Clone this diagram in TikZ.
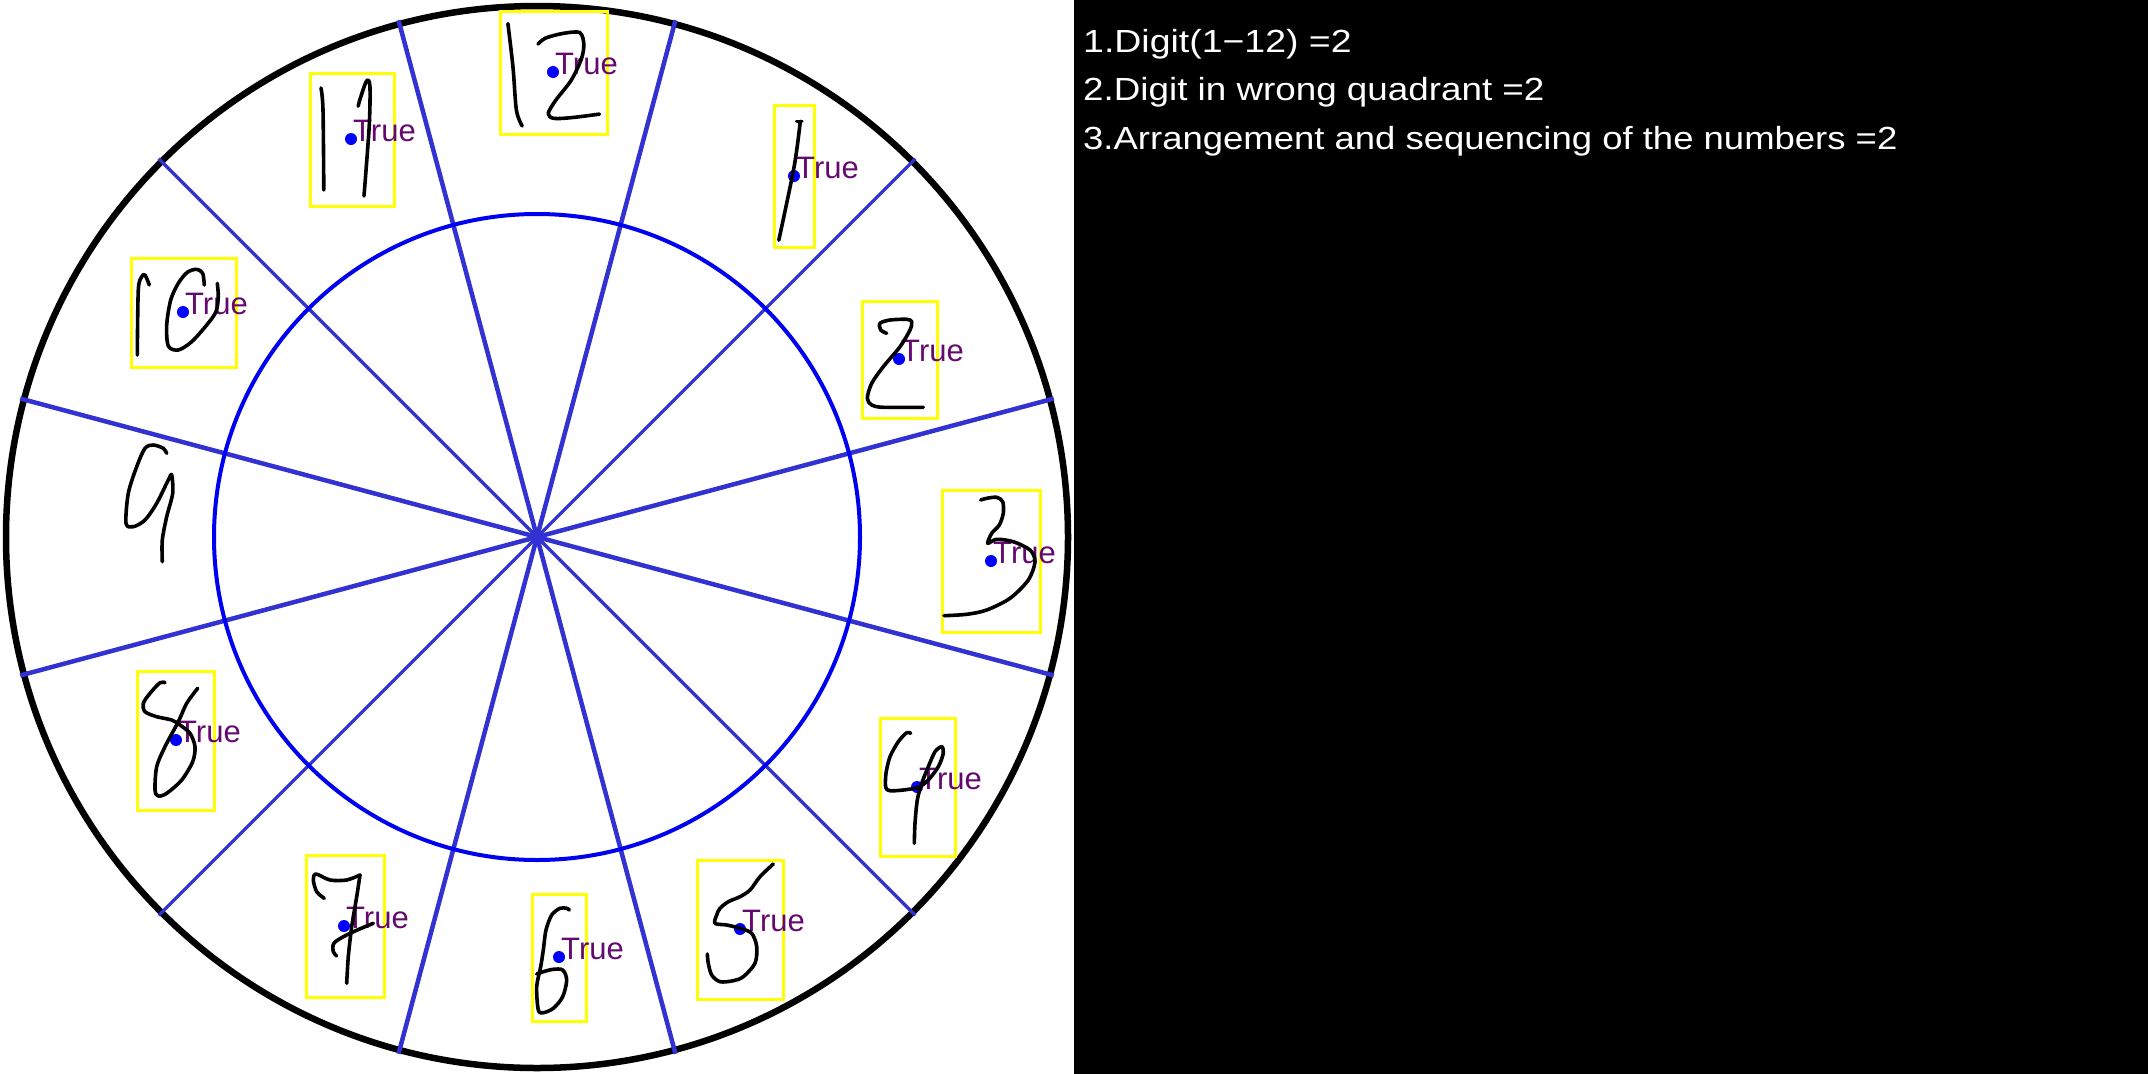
\documentclass[tikz,border=0pt]{standalone}
\usepackage{fontspec}
\setmainfont{Liberation Sans}
\usepackage{graphicx}
\usepackage{tikz}
\usetikzlibrary{calc}
\definecolor{rayo}{RGB}{50,50,210}
\definecolor{aro}{RGB}{0,0,240}
\definecolor{caja}{RGB}{255,255,0}
\definecolor{punto}{RGB}{0,0,255}
\definecolor{morado}{RGB}{100,10,110}

\begin{document}
\begin{tikzpicture}[x=1pt,y=-1pt,line cap=round,line join=round,
    ink/.style={black,line width=3.6pt},
    digitbox/.style={caja,line width=3pt,line cap=butt,line join=miter},
    tag/.style={morado,anchor=base west,inner sep=0pt,font=\fontsize{31}{31}\selectfont},
    score/.style={white,anchor=base west,inner sep=0pt,font=\fontsize{32}{32}\selectfont}]
        \useasboundingbox (0,0) rectangle (2148,1074);
        % --- fondo: lienzo blanco y panel negro ---
        \fill[white] (0,0) rectangle (1074,1074);
        \fill[black] (1074,0) rectangle (2148,1074);
        % --- centro del reloj y borde ---
        \coordinate (C) at (537,537);
        \draw[black,line width=6.5pt] (C) circle (531pt);
        % --- radios cada 30 grados ---
        \foreach \a in {15,75,105,165,195,255,285,345}{
          \draw[rayo,line width=4.5pt,line cap=butt] (C) -- ++(\a:535pt);
        }
        \foreach \a in {45,135,225,315}{
          \draw[rayo,line width=3.2pt,line cap=butt] (C) -- ++(\a:535pt);
        }
        % --- circulo interior ---
        \draw[aro,line width=4pt] (C) circle (323pt);
        % --- cajas, puntos y etiquetas ---
        \foreach \n/\xa/\ya/\xb/\yb/\dx/\dy in {12/500/11/607/134/553/72,
            11/310/73/394/206/351/139, 1/774/105/814/247/794/176,
            10/131/258/236/367/183/312, 2/862/301/937/418/899/359,
            3/942/490/1040/632/991/561, 8/137/671/214/810/176/740,
            4/880/718/955/856/917/787, 7/306/855/384/997/344/926,
            6/532/894/586/1021/559/957, 5/697/860/783/999/740/929}{
          \draw[digitbox] (\xa,\ya) rectangle (\xb,\yb);
          \fill[punto] (\dx,\dy) circle (6pt);
          \node[tag] (t\n) at (\dx+2,\dy+2) {True};
        }
        % --- cifras a mano ---
        % 12
        \draw[ink] plot[smooth,tension=.5] coordinates {(507.9,23.6) (513,67.2) (516.4,110.2) (522.2,126)};
        \draw[ink] plot[smooth,tension=.5] coordinates {(538,44.1) (545.5,38.1) (562.6,33.5) (579.7,32.5)
              (583.8,44.1) (581.4,58.9) (571.1,80.4) (555.7,100.3) (548.2,113.5) (554,118.4) (572.8,117.5) (599.5,114.1)};
        % 11
        \draw[ink] plot[smooth,tension=.5] coordinates {(321,88) (323,109.6) (323.8,190)};
        \draw[ink] plot[smooth,tension=.5] coordinates {(358.2,106.2) (359.9,99.6) (366.4,81.3) (369.9,85.6)
              (369.2,126.2) (364,196)};
        % 1
        \draw[ink] (796.9,121.3) -- (801.7,121.3);
        \draw[ink] plot[smooth,tension=.5] coordinates {(800.3,121.3) (794.2,166.3) (778.8,240.2)};
        % 10
        \draw[ink] plot[smooth,tension=.5] coordinates {(137.3,355) (138.3,290) (141.7,276.7) (145,275) (149.3,285)};
        \draw[ink] plot[smooth,tension=.5] coordinates {(204.3,285) (202.7,273.3) (196.7,269.3) (187.3,272.3)
              (178.3,283.3) (170.7,300) (166.7,325) (168.3,346) (178.3,350) (191.7,341.7) (206.7,325)
              (216,311.7) (218.3,296.7) (217.3,283.3)};
        % 9
        \draw[ink] plot[smooth,tension=.5] coordinates {(166.7,453.3) (163.3,448.3) (153.3,445) (145,448.3)
              (136.7,466.7) (128.3,493.3) (126,523.3) (133.3,526.7) (145,520) (156.7,503.3) (168.3,480)
              (171.7,475) (172.7,493.3) (166.7,516.7) (162.3,540) (162.3,561.7)};
        % 2
        \draw[ink] plot[smooth,tension=.5] coordinates {(886.7,333.3) (880.7,330) (880,323.3) (890,320)
              (906.7,319.3) (911.7,321.7) (910,330) (900,346.7) (883.3,366.7) (871.7,383.3) (867.3,398.3)
              (871.7,405) (883.3,407.3) (923.3,407.3)};
        % 3
        \draw[ink] plot[smooth,tension=.5] coordinates {(980.7,500) (986.7,498.3) (996.7,497.3) (1002.7,501.7)
              (1003.3,513.3) (999.3,525) (991.7,533.3) (987.7,543.3) (996.7,539.3) (1013.3,541.7) (1030,550)
              (1035,561.7) (1028.3,580) (1010,598.3) (986.7,610) (966.7,614.3) (944,615.7)};
        % 8
        \draw[ink] plot[smooth,tension=.5] coordinates {(165,682.7) (160,682.7) (150,693.3) (143.3,703.3)
              (145,711.7) (156.7,716.7) (171.7,720) (180,725) (190,733.3) (195,746.7) (192.7,761.7)
              (181.7,780) (166.7,793.3) (158.3,796) (155,790) (156.7,766.7) (165,746.7) (178.3,721.7)
              (186.7,703.3) (197.7,688.3)};
        % 4
        \draw[ink] plot[smooth,tension=.5] coordinates {(910.7,733.3) (906.7,732.7) (898.3,741.7) (890,756.7)
              (886,773.3) (885.7,787.3) (890,790.7) (903.3,790) (918.3,787.3) (928.3,780) (938.3,766.7)
              (943.3,753.3) (941.7,746.7) (935,751.7) (928.3,766.7) (921.7,783.3) (917.3,800) (915,823.3)
              (914.3,843.3)};
        % 7
        \draw[ink] plot[smooth,tension=.5] coordinates {(324.3,898.3) (316.7,891.7) (313.3,880) (316,874)
              (330,880) (346.7,880) (360,875)};
        \draw[ink] plot[smooth,tension=.5] coordinates {(360,875) (356.7,896.7) (351.7,926.7) (348.3,956.7) (346.7,983.3)};
        \draw[ink] plot[smooth,tension=.5] coordinates {(336.7,956) (333.3,951.7) (334.3,942.7) (350,933.3) (373.3,923.3)};
        % 6
        \draw[ink] plot[smooth,tension=.5] coordinates {(569.3,910) (566.7,908.3) (560,908.3) (551.7,915)
              (546,930) (543.3,950) (540.7,966.7) (536.7,986.7) (538.3,1010) (543.3,1012.7) (553.3,1008.3)
              (562.7,996.7) (566.7,980) (562.7,970) (553.3,969.3) (543.3,971.7) (536.7,974)};
        % 5
        \draw[ink] plot[smooth,tension=.5] coordinates {(773.3,864) (760,876.7) (750,890) (740,896.7)
              (728.3,901.7) (720,908.3) (716.7,915) (715,923.3) (726.7,925) (740,928.3) (751.7,933.3)
              (756.7,946.7) (755,963.3) (743.3,976.7) (733.3,980.7) (720,981.7) (711.7,975) (708.3,963.3)
              (707.3,954)};
        % --- puntuacion ---
        \node[score] (s1) at (1083,52) {\scalebox{1.17}[1]{1.Digit(1−12) =2}};
        \node[score] (s2) at (1083,100) {\scalebox{1.15}[1]{2.Digit in wrong quadrant =2}};
        \node[score] (s3) at (1083,149) {\scalebox{1.14}[1]{3.Arrangement and sequencing of the numbers =2}};
      \end{tikzpicture}
\end{document}
